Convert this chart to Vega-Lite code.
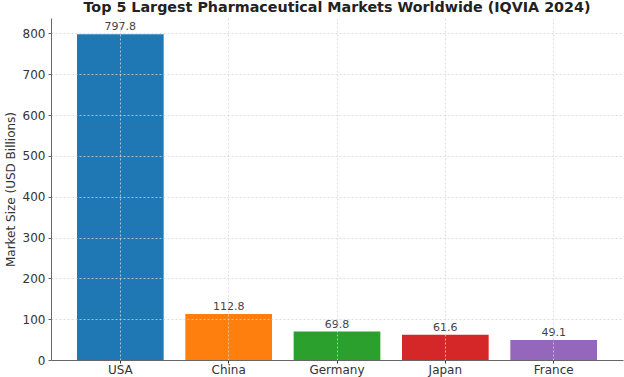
{
  "$schema": "https://vega.github.io/schema/vega-lite/v6.json",
  "autosize": "none",
  "width": 572,
  "height": 342,
  "padding": {"left": 51, "top": 18, "right": 1, "bottom": 17},
  "background": "white",
  "config": {
    "font": "DejaVu Sans",
    "view": {"stroke": null}
  },
  "title": {
    "text": "Top 5 Largest Pharmaceutical Markets Worldwide (IQVIA 2024)",
    "font": "DejaVu Sans",
    "fontSize": 14.3,
    "fontWeight": "bold",
    "color": "#222222",
    "anchor": "middle",
    "offset": 3
  },
  "data": {
    "values": [
      {"country": "USA", "value": 797.8},
      {"country": "China", "value": 112.8},
      {"country": "Germany", "value": 69.8},
      {"country": "Japan", "value": 61.6},
      {"country": "France", "value": 49.1}
    ]
  },
  "encoding": {
    "x": {
      "field": "country",
      "type": "nominal",
      "sort": null,
      "scale": {"paddingInner": 0.2, "paddingOuter": 0.24},
      "axis": {
        "title": null,
        "labelAngle": 0,
        "labelFontSize": 12,
        "labelColor": "#333333",
        "labelPadding": 1,
        "grid": true,
        "bandPosition": 0.5,
        "gridColor": "#d4d4d4",
        "gridDash": [2, 2],
        "gridWidth": 0.8,
        "domainColor": "#666666",
        "tickColor": "#333333",
        "tickSize": 3,
        "zindex": 1
      }
    }
  },
  "layer": [
    {
      "mark": {"type": "bar"},
      "encoding": {
        "y": {
          "field": "value",
          "type": "quantitative",
          "scale": {"domain": [0, 837.7], "nice": false},
          "axis": {
            "title": "Market Size (USD Billions)",
            "titleFontSize": 12,
            "titleFontWeight": "normal",
            "titleColor": "#333333",
            "titlePadding": 5,
            "values": [0, 100, 200, 300, 400, 500, 600, 700, 800],
            "labelFontSize": 12,
            "labelColor": "#333333",
            "labelPadding": 3,
            "grid": true,
            "gridColor": "#d4d4d4",
            "gridDash": [2, 2],
            "gridWidth": 0.8,
            "domainColor": "#666666",
            "tickColor": "#666666",
            "tickSize": 3,
            "zindex": 1
          }
        },
        "color": {
          "field": "country",
          "type": "nominal",
          "sort": null,
          "scale": {
            "domain": ["USA", "China", "Germany", "Japan", "France"],
            "range": ["#1f77b4", "#ff7f0e", "#2ca02c", "#d62728", "#9467bd"]
          },
          "legend": null
        }
      }
    },
    {
      "mark": {"type": "text", "baseline": "bottom", "dy": -2, "fontSize": 11, "color": "#444444"},
      "encoding": {
        "y": {"field": "value", "type": "quantitative"},
        "text": {"field": "value", "type": "quantitative", "format": ".1f"}
      }
    }
  ]
}
